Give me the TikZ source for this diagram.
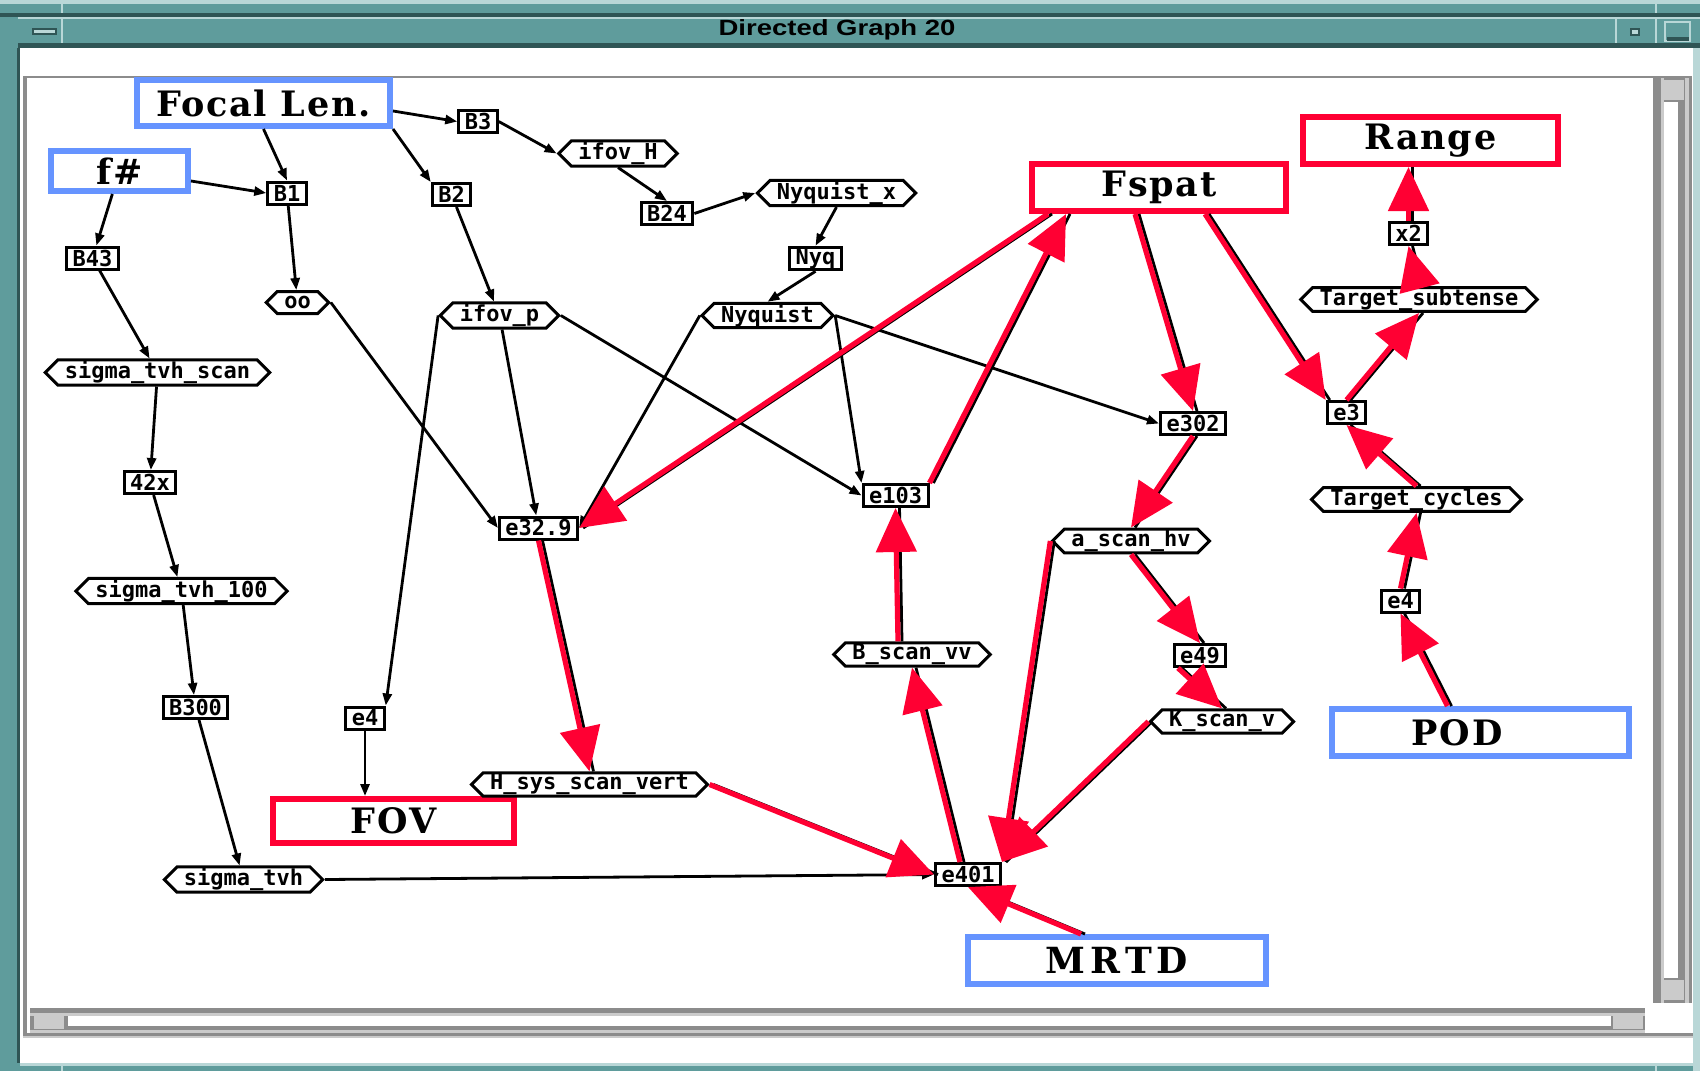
\documentclass[tikz,border=0pt]{standalone}
\usepackage{fontspec}
\usepackage{graphicx}
\usepackage{tikz}
\usetikzlibrary{arrows.meta, shapes.symbols}
\setmainfont{DejaVu Serif}
\newfontfamily\bigserif[LetterSpace=5]{DejaVu Serif}
\newfontfamily\wideserif[LetterSpace=14]{DejaVu Serif}
\newfontfamily\pixfont{DejaVu Sans Mono}
\newfontfamily\ttlfont{Liberation Sans}
\definecolor{frameteal}{HTML}{5F9C9C}
\definecolor{darkteal}{HTML}{2F5555}
\definecolor{paleteal}{HTML}{B9D7D7}
\definecolor{barGray}{HTML}{8C8C8C}
\definecolor{paleGray}{HTML}{CBCBCB}
\definecolor{inRed}{HTML}{FF0033}
\definecolor{outBlue}{HTML}{6694FF}
\newcommand{\redge}[2]{\draw[under, transform canvas={xshift=2pt}] #1 -- #2;
  \draw[flow] #1 -- #2;}

\begin{document}
\begin{tikzpicture}[x=0.5pt, y=-0.5pt,
  op/.style={draw, line width=1.5pt, minimum height=11pt, inner xsep=3pt,
             inner ysep=0.5pt, font=\pixfont\bfseries\fontsize{11}{11}\selectfont},
  var/.style={op, signal, signal to=east and west, inner xsep=3.5pt},
  bigbox/.style={draw, line width=3pt, inner sep=0pt,
             font=\bigserif\bfseries\fontsize{17.5}{18}\selectfont},
  inbox/.style={draw=outBlue},
  outbox/.style={draw=inRed},
  under/.style={draw=black, line width=1.4pt},
  wire/.style={under, ->},
  flow/.style={draw=inRed, line width=2.6pt, -{Triangle[length=22pt,width=20pt]}},
  >={Triangle[length=6pt,width=4.5pt]}]
\useasboundingbox (0,0) rectangle (1700,1071);
% window frame
\fill[frameteal] (0,0) rectangle (1700,1071);
\fill[paleteal] (0,0) rectangle (1700,4);
\fill[darkteal] (0,13) rectangle (1700,17);
\fill[paleteal] (18,17) rectangle (1700,19);
\fill[darkteal] (18,43) rectangle (1700,48);
\fill[darkteal] (17,48) rectangle (20,1063);
\fill[white] (20,48) rectangle (1693,1063);
\fill[paleteal] (1693,48) rectangle (1700,1071);
\fill[paleteal] (20,1063) rectangle (1700,1066);
\foreach \sx in {62,1656} {
  \draw[paleteal, line width=1pt] (\sx,4) -- (\sx,13);
  \draw[paleteal, line width=1pt] (\sx,1066) -- (\sx,1071);
}
\draw[paleteal, line width=1pt] (62,19) -- (62,43);
\draw[paleteal, line width=1pt] (1616,19) -- (1616,43);
\draw[paleteal, line width=1pt] (1656,19) -- (1656,43);
\filldraw[fill=paleteal, draw=darkteal, line width=1pt] (33,29) rectangle (56,34);
\filldraw[fill=paleteal, draw=darkteal, line width=1pt] (1631,29) rectangle (1639,35);
\filldraw[fill=frameteal, draw=paleteal, line width=1pt] (1665,22) rectangle (1690,41);
\fill[darkteal] (1667,37) rectangle (1689,41);
\node[font=\ttlfont\bfseries\fontsize{11}{12}\selectfont] (title) at (837,30)
  {\scalebox{1.25}[1]{Directed Graph 20}};
% canvas and scroll bars
\fill[barGray] (23,76) rectangle (1653,78);
\fill[barGray] (23,76) rectangle (27,1036);
\fill[barGray] (23,1033) rectangle (1693,1036);
\fill[paleGray] (23,1036) rectangle (1693,1038);
\fill[barGray] (1653,76) rectangle (1692,1003);
\fill[paleGray] (1661,78) rectangle (1664,1003);
\fill[white] (1664,102) rectangle (1678,978);
\fill[paleGray] (1685,78) rectangle (1689,1003);
\fill[paleGray] (1664,80) rectangle (1684,100);
\fill[paleGray] (1664,980) rectangle (1684,1000);
\fill[barGray] (30,1008) rectangle (1645,1030);
\fill[paleGray] (30,1013) rectangle (1645,1016);
\fill[white] (68,1016) rectangle (1611,1026);
\fill[paleGray] (30,1030) rectangle (1645,1033);
\fill[paleGray] (34,1014) rectangle (64,1029);
\fill[paleGray] (1613,1014) rectangle (1643,1029);

% inputs and results
\node[bigbox, inbox, minimum width=126.5pt, minimum height=23pt] (focal) at (263.5,103) {Focal Len.};
\node[bigbox, inbox, minimum width=68.5pt, minimum height=20pt] (fnum) at (119.5,171) {f\#};
\node[bigbox, outbox, minimum width=127pt, minimum height=23.5pt] (fspat) at (1159,187.5) {Fspat};
\node[bigbox, outbox, minimum width=127.5pt, minimum height=23.5pt] (range) at (1430.5,140.5) {Range};
\node[bigbox, outbox, minimum width=120.5pt, minimum height=22pt] (fov) at (393.5,821) {FOV};
\node[bigbox, inbox, minimum width=148.5pt, minimum height=23.5pt] (pod) at (1480.5,732.5) {POD\hspace*{23.5pt}};
\node[bigbox, inbox, minimum width=149pt, minimum height=23.5pt,
      font=\wideserif\bfseries\fontsize{18}{18}\selectfont] (mrtd) at (1117,960.5) {MRTD};

% operators
\node[op] (B1) at (287,193) {B1};
\node[op] (B2) at (451.5,194.5) {B2};
\node[op] (B3) at (478,121.5) {B3};
\node[op] (B43) at (92.5,258) {B43};
\node[op] (B24) at (667,213.5) {B24};
\node[op] (nyq) at (815.5,258.5) {Nyq};
\node[op] (x42) at (150,482.5) {42x};
\node[op] (B300) at (195.5,707.5) {B300};
\node[op] (e4) at (365,718) {e4};
\node[op] (e329) at (538.5,528) {e32.9};
\node[op] (e103) at (895.5,495.5) {e103};
\node[op] (e302) at (1193,423.5) {e302};
\node[op] (e3) at (1346.5,412.5) {e3};
\node[op] (x2) at (1408.5,233.5) {x2};
\node[op] (e49) at (1200,655.5) {e49};
\node[op] (e401) at (968,874.5) {e401};
\node[op] (e4b) at (1400.5,601) {e4};

% variables
\node[var] (oo) at (297.5,302.5) {oo};
\node[var] (ifovH) at (618,153.5) {ifov\_H};
\node[var] (nyqx) at (836.5,193) {Nyquist\_x};
\node[var] (nyquist) at (767.5,315.5) {Nyquist};
\node[var] (ifovp) at (499.5,315.5) {ifov\_p};
\node[var] (sts) at (157.5,372.5) {sigma\_tvh\_scan};
\node[var] (st100) at (181.5,591) {sigma\_tvh\_100};
\node[var] (stvh) at (243.5,879.5) {sigma\_tvh};
\node[var] (hsys) at (589.5,784.5) {H\_sys\_scan\_vert};
\node[var] (tsub) at (1419,299.5) {Target\_subtense};
\node[var] (tcyc) at (1416.5,499.5) {Target\_cycles};
\node[var] (bhv) at (1131,541) {a\_scan\_hv};
\node[var] (bvv) at (912,654.5) {B\_scan\_vv};
\node[var] (kv) at (1222,721.5) {K\_scan\_v};

% plain links
\draw[wire] ([yshift=-5pt]fnum.east) -- (B1.west);
\draw[wire] (focal.south) -- (B1.north);
\draw[wire] (focal.south east) -- (B2.north west);
\draw[wire] ([yshift=-4pt]focal.east) -- (B3.west);
\draw[wire] (B3.east) -- (ifovH.west);
\draw[wire] (ifovH.south) -- (B24.north);
\draw[wire] (B24.east) -- (nyqx.west);
\draw[wire] (nyqx.south) -- (nyq.north);
\draw[wire] (nyq.south) -- (nyquist.north);
\draw[wire] (fnum) -- (B43);
\draw[wire] (B43) -- (sts);
\draw[wire] (sts) -- (x42);
\draw[wire] (x42) -- (st100);
\draw[wire] (st100) -- (B300);
\draw[wire] (B300) -- (stvh);
\draw[wire] (stvh.east) -- (e401.west);
\draw[wire] (B1) -- (oo);
\draw[wire] (B2) -- (ifovp);
\draw[wire] (oo.east) -- (e329.west);
\draw[wire] (ifovp) -- (e329);
\draw[wire] (ifovp.west) -- (e4.north east);
\draw[wire] (e4.south) -- (e4.south |- fov.north);
\draw[wire] (ifovp.east) -- (e103.west);
\draw[wire] (nyquist.west) -- (e329.east);
\draw[wire] (nyquist.east) -- (e103.north west);
\draw[wire] (nyquist.east) -- (e302.west);

% highlighted links
\redge{([xshift=9.5pt]fspat.south west)}{(e329.east)}
\redge{(e103.north east)}{([xshift=18.5pt]fspat.south west)}
\redge{([xshift=-12pt]fspat.south)}{(e302.north)}
\redge{([xshift=-42pt]fspat.south east)}{(e3.north west)}
\redge{(e3.north)}{(tsub.south)}
\redge{(tsub.north)}{(x2.south)}
\redge{(x2.north)}{(x2.north |- range.south)}
\redge{(tcyc.north)}{(e3.south)}
\redge{(e4b.north)}{(tcyc.south)}
\redge{([xshift=-16.5pt]pod.north)}{(e4b.south)}
\redge{(e302.south)}{(bhv.north)}
\redge{(bhv.south)}{(e49.north)}
\redge{([xshift=-11pt]e49.south)}{(kv.north)}
\redge{(bhv.west)}{(e401.north east)}
\redge{(kv.west)}{(e401.north east)}
\redge{([xshift=-7pt]bvv.north)}{(e103.south)}
\redge{([xshift=-4pt]e401.north)}{(bvv.south)}
\redge{([xshift=-18pt]mrtd.north)}{(e401.south)}
\redge{(hsys.east)}{(e401.west)}
\redge{(e329.south)}{(hsys.north)}
\end{tikzpicture}
\end{document}
